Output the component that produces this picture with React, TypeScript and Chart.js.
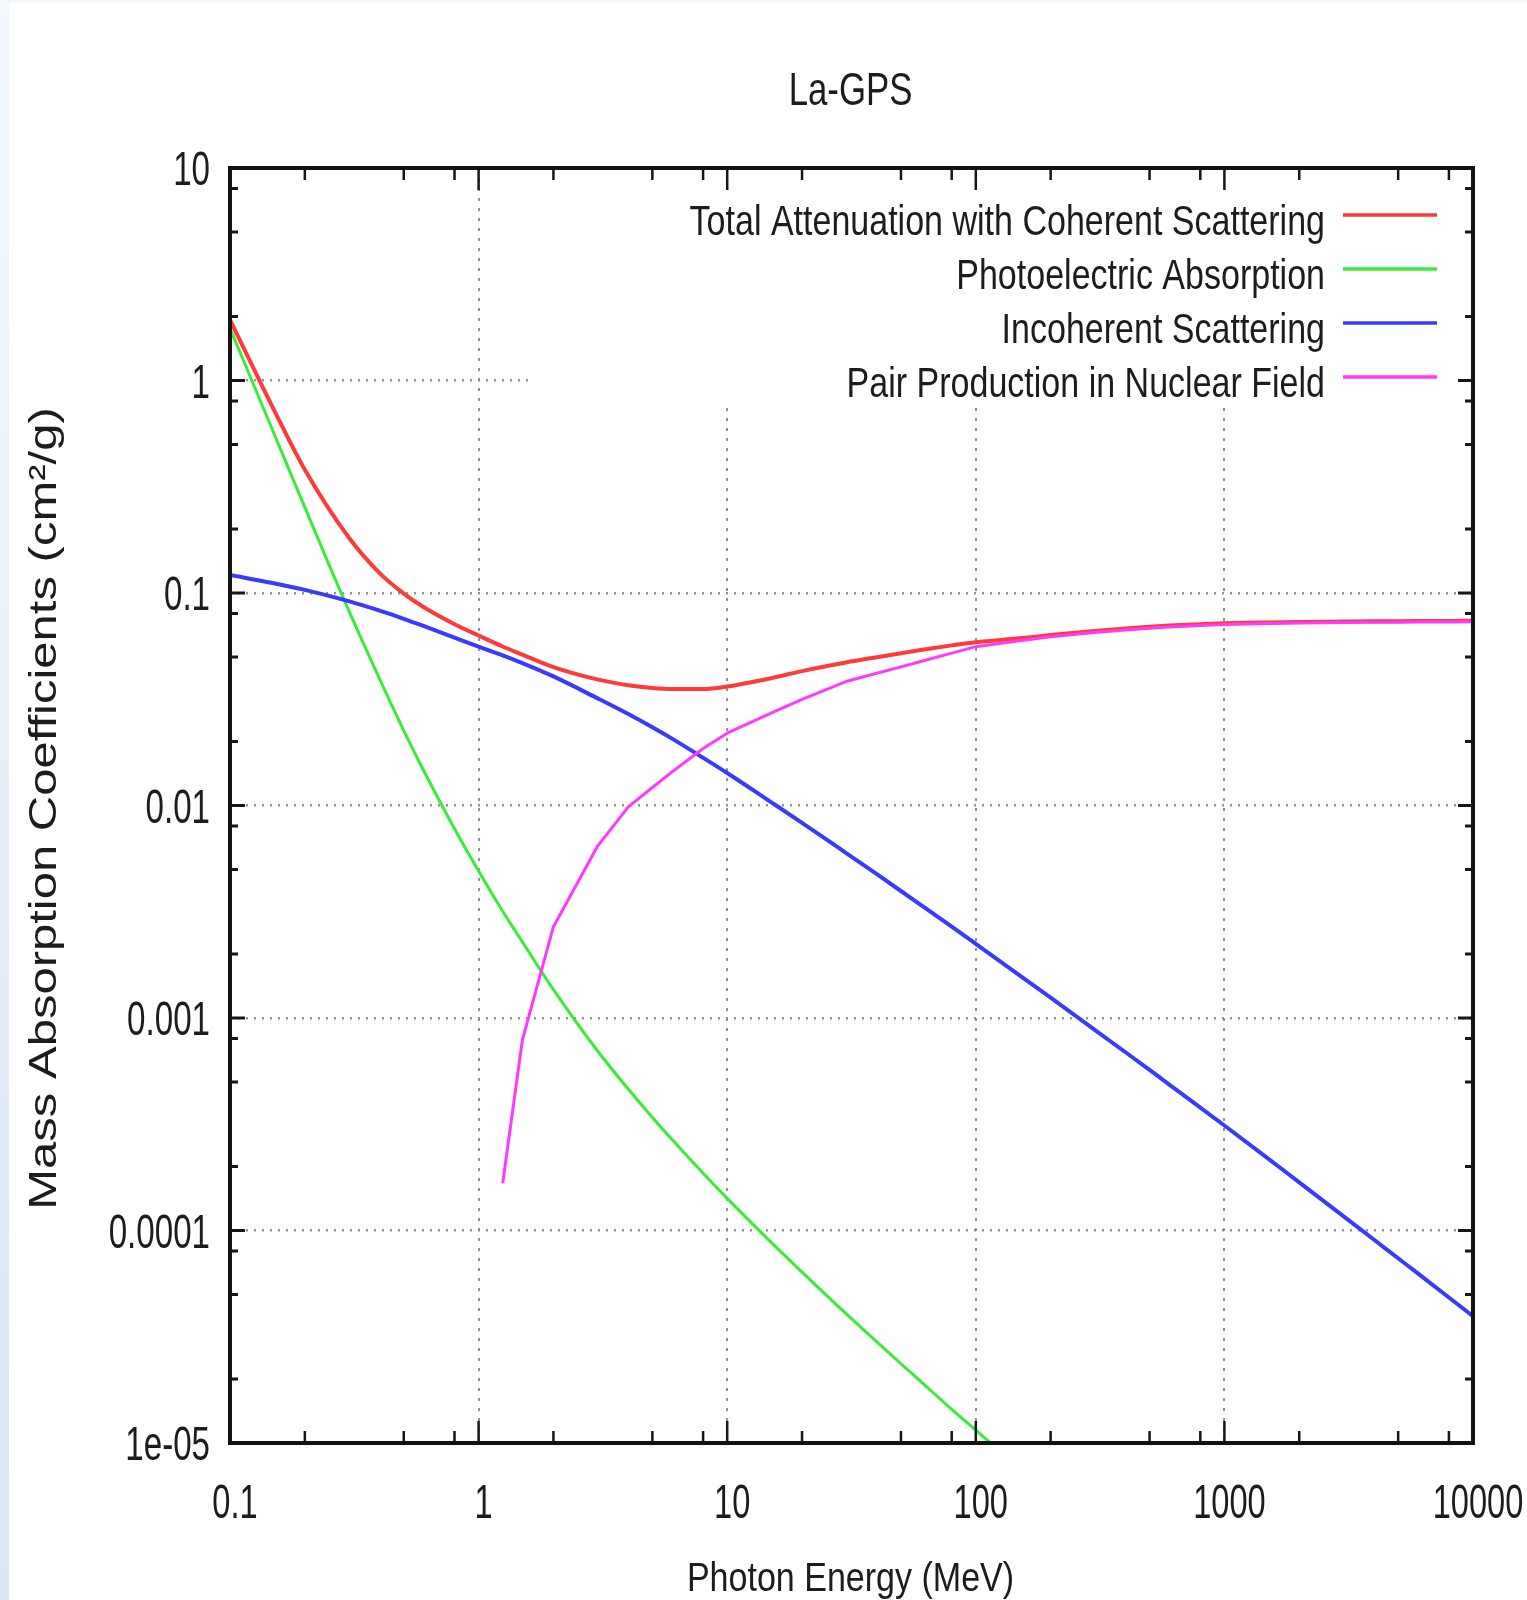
import React, { useEffect, useRef } from 'react';
import { Chart, registerables } from 'chart.js';

Chart.register(...registerables);

// ---------------- data ----------------
const TITLE = 'La-GPS';
const X_TITLE = 'Photon Energy (MeV)';
const Y_TITLE = 'Mass Absorption Coefficients (cm\u00B2/g)';

const ENERGY = [
  0.1, 0.15, 0.2, 0.3, 0.4, 0.5, 0.6, 0.8, 1, 1.25, 1.5, 2, 3, 4, 5, 6, 8, 10, 15, 20, 30, 40, 50, 60, 80,
  100, 150, 200, 300, 400, 500, 600, 800, 1000, 1500, 2000, 3000, 4000, 5000, 6000, 8000, 10000,
];

const TOTAL = [
  1.93, 0.73, 0.38, 0.183, 0.124, 0.0993, 0.0859, 0.0713, 0.0631, 0.056, 0.0513, 0.0448, 0.0392, 0.0368, 0.0357,
  0.0353, 0.0353, 0.0363, 0.0397, 0.0429, 0.0471, 0.0499, 0.0521, 0.0539, 0.0567, 0.0587, 0.0612, 0.0634,
  0.0662, 0.068, 0.0694, 0.0703, 0.0713, 0.072, 0.0727, 0.0731, 0.0734, 0.0736, 0.0737, 0.0738, 0.0739, 0.074,
];

const PHOTOELECTRIC = [
  1.76, 0.566, 0.253, 0.083, 0.0393, 0.0225, 0.01466, 0.00778, 0.00492, 0.00318, 0.00228, 0.00136, 0.000703,
  0.000463, 0.00034, 0.000268, 0.000186, 0.0001416, 0.0000881, 0.0000637, 0.0000407, 0.0000299, 0.0000236,
  0.0000195, 0.0000144, 0.0000115, 0.00000757, null, null, null, null, null, null, null, null, null, null, null,
  null, null, null, null,
];

const INCOHERENT = [
  0.1216, 0.1112, 0.1035, 0.0916, 0.0826, 0.0756, 0.07, 0.0617, 0.0559, 0.0509, 0.0468, 0.0405, 0.032, 0.02694,
  0.02335, 0.02064, 0.01677, 0.01422, 0.01038, 0.00829, 0.00599, 0.00475, 0.00396, 0.00341, 0.00269, 0.002233,
  0.001589, 0.001246, 0.000882, 0.00069, 0.00057, 0.000486, 0.000379, 0.000312, 0.000218, 0.0001685, 0.0001172,
  0.0000905, 0.000074, 0.0000628, 0.0000484, 0.0000395,
];

const PAIR_NUCLEAR = [
  null, null, null, null, null, null, null, null, null, 0.000167, 0.000788, 0.00269, 0.0064, 0.00986, 0.01215,
  0.0144, 0.01854, 0.0219, 0.0272, 0.0316, 0.0383, 0.0419, 0.0449, 0.0476, 0.0521, 0.0559, 0.0596, 0.0622,
  0.0652, 0.067, 0.0683, 0.0692, 0.0703, 0.071, 0.0718, 0.0722, 0.0726, 0.0728, 0.0729, 0.073, 0.0731, 0.0732,
];

const SERIES_LABELS = [
  'Total Attenuation with Coherent Scattering',
  'Photoelectric Absorption',
  'Incoherent Scattering',
  'Pair Production in Nuclear Field',
];

const X_MAJOR = [0.1, 1, 10, 100, 1000, 10000];
const X_TICK_LABELS = ['0.1', '1', '10', '100', '1000', '10000'];
const Y_MAJOR = [1e-5, 1e-4, 1e-3, 1e-2, 0.1, 1, 10];
const Y_TICK_LABELS = ['1e-05', '0.0001', '0.001', '0.01', '0.1', '1', '10'];
const MINOR_STEPS = [2, 5, 8];

// ---------------- style ----------------
const W = 1527;
const H = 1600;
const FONT = '"Liberation Sans", Arial, "DejaVu Sans", sans-serif';
const TEXT_COLOR = '#1c1c1c';
const GRID_COLOR = 'rgba(135,135,135,0.9)';
const COLORS = ['#ff3a3a', '#3aec3a', '#3a3aff', '#ff3aff'];
const WIDTHS = [4, 3, 4, 3];
const SMOOTH = [true, true, true, false];

const withMinors = (majors: number[]) => {
  const out: number[] = [];
  majors.forEach((m, i) => {
    out.push(m);
    if (i < majors.length - 1) MINOR_STEPS.forEach((s) => out.push(m * s));
  });
  return out;
};
const X_TICKS = withMinors(X_MAJOR);
const Y_TICKS = withMinors(Y_MAJOR);

const isMajor = (v: number) => {
  if (!(v > 0)) return false;
  const l = Math.log10(v);
  return Math.abs(l - Math.round(l)) < 1e-6;
};

function scaledText(
  ctx: CanvasRenderingContext2D,
  text: string,
  x: number,
  y: number,
  size: number,
  sx: number,
  align: CanvasTextAlign,
) {
  ctx.save();
  ctx.font = `${size}px ${FONT}`;
  ctx.fillStyle = TEXT_COLOR;
  ctx.textAlign = align;
  ctx.textBaseline = 'alphabetic';
  ctx.translate(x, y);
  ctx.scale(sx, 1);
  ctx.fillText(text, 0, 0);
  ctx.restore();
}

const LEGEND_BOX_LEFT = 528;
const LEGEND_BOX_BOTTOM = 403;
const LEGEND_FIRST_Y = 215;
const LEGEND_STEP = 54;
const LEGEND_TEXT_RIGHT = 1325;
const LEGEND_SAMPLE_X0 = 1343;
const LEGEND_SAMPLE_X1 = 1437;

const gnuplotPlugin = {
  id: 'gnuplotLook',
  beforeDraw(chart: any) {
    const ctx: CanvasRenderingContext2D = chart.ctx;
    ctx.save();
    const g = ctx.createLinearGradient(0, 0, 0, H);
    g.addColorStop(0, '#f3f7fc');
    g.addColorStop(1, '#d9e6f5');
    ctx.fillStyle = g;
    ctx.fillRect(0, 0, W, H);
    ctx.fillStyle = '#ffffff';
    ctx.fillRect(9, 3, W - 9, H - 3);
    ctx.restore();
  },
  beforeDatasetsDraw(chart: any) {
    const ctx: CanvasRenderingContext2D = chart.ctx;
    const a = chart.chartArea;
    ctx.save();
    ctx.fillStyle = '#ffffff';
    ctx.fillRect(LEGEND_BOX_LEFT, a.top + 2, a.right - 2 - LEGEND_BOX_LEFT, LEGEND_BOX_BOTTOM - a.top - 2);
    ctx.restore();
  },
  afterDraw(chart: any) {
    const ctx: CanvasRenderingContext2D = chart.ctx;
    const a = chart.chartArea;
    const xs = chart.scales.x;
    const ys = chart.scales.y;
    ctx.save();
    // tick marks
    ctx.strokeStyle = '#161616';
    ctx.lineCap = 'butt';
    ctx.lineWidth = 2.5;
    xs.ticks.forEach((t: any) => {
      const px = xs.getPixelForValue(t.value);
      const len = isMajor(t.value) ? 22 : 12;
      ctx.beginPath();
      ctx.moveTo(px, a.bottom);
      ctx.lineTo(px, a.bottom - len);
      ctx.moveTo(px, a.top);
      ctx.lineTo(px, a.top + len);
      ctx.stroke();
    });
    ctx.lineWidth = 3;
    ys.ticks.forEach((t: any) => {
      const py = ys.getPixelForValue(t.value);
      const len = isMajor(t.value) ? 15 : 8;
      ctx.beginPath();
      ctx.moveTo(a.left, py);
      ctx.lineTo(a.left + len, py);
      ctx.moveTo(a.right, py);
      ctx.lineTo(a.right - len, py);
      ctx.stroke();
    });
    // border
    ctx.lineWidth = 4;
    ctx.strokeStyle = '#121212';
    ctx.strokeRect(a.left, a.top, a.right - a.left, a.bottom - a.top);
    ctx.restore();

    // tick labels
    X_MAJOR.forEach((v, i) => {
      const px = xs.getPixelForValue(v);
      scaledText(ctx, X_TICK_LABELS[i], px + 5, a.bottom + 75, 49, 0.665, 'center');
    });
    Y_MAJOR.forEach((v, i) => {
      const py = ys.getPixelForValue(v);
      scaledText(ctx, Y_TICK_LABELS[i], a.left - 20, py + 17, 48, 0.69, 'right');
    });

    // legend
    chart.data.datasets.forEach((ds: any, i: number) => {
      const y = LEGEND_FIRST_Y + LEGEND_STEP * i;
      scaledText(ctx, ds.label, LEGEND_TEXT_RIGHT, y + 20, 42, 0.81, 'right');
      ctx.save();
      ctx.strokeStyle = ds.borderColor;
      ctx.lineWidth = 3.5;
      ctx.beginPath();
      ctx.moveTo(LEGEND_SAMPLE_X0, y);
      ctx.lineTo(LEGEND_SAMPLE_X1, y);
      ctx.stroke();
      ctx.restore();
    });

    // titles
    const cx = (a.left + a.right) / 2 - 1;
    scaledText(ctx, TITLE, cx, 105, 46, 0.756, 'center');
    scaledText(ctx, X_TITLE, cx, 1591, 41, 0.83, 'center');
    ctx.save();
    ctx.font = `49px ${FONT}`;
    ctx.fillStyle = TEXT_COLOR;
    ctx.textAlign = 'center';
    ctx.textBaseline = 'alphabetic';
    ctx.translate(56, (a.top + a.bottom) / 2 + 3);
    ctx.rotate(-Math.PI / 2);
    ctx.scale(1, 0.78);
    ctx.fillText(Y_TITLE, 0, 0);
    ctx.restore();
  },
};

const SERIES = [TOTAL, PHOTOELECTRIC, INCOHERENT, PAIR_NUCLEAR];

export default function App() {
  const ref = useRef<HTMLCanvasElement | null>(null);

  useEffect(() => {
    const canvas = ref.current;
    if (!canvas) return;
    const datasets = SERIES.map((vals, i) => ({
      label: SERIES_LABELS[i],
      data: ENERGY.map((e, j) => ({ x: e, y: vals[j] })),
      borderColor: COLORS[i],
      backgroundColor: COLORS[i],
      borderWidth: WIDTHS[i],
      pointRadius: 0,
      pointHoverRadius: 0,
      tension: 0,
      cubicInterpolationMode: SMOOTH[i] ? ('monotone' as const) : ('default' as const),
      fill: false,
      spanGaps: false,
      borderJoinStyle: 'round' as const,
      order: 4 - i,
    }));
    const chart = new Chart(canvas, {
      type: 'line',
      data: { datasets },
      options: {
        responsive: false,
        maintainAspectRatio: false,
        devicePixelRatio: 1,
        animation: false,
        events: [],
        layout: { padding: { left: 230, top: 168, right: W - 1473, bottom: H - 1443 } },
        plugins: {
          legend: { display: false },
          title: { display: false },
          tooltip: { enabled: false },
        },
        scales: {
          x: {
            type: 'logarithmic',
            min: 0.1,
            max: 10000,
            afterBuildTicks: (axis: any) => {
              axis.ticks = X_TICKS.map((v) => ({ value: v }));
            },
            ticks: { display: false },
            grid: {
              drawTicks: false,
              lineWidth: 2,
              color: (c: any) => (c.tick && isMajor(c.tick.value) ? GRID_COLOR : 'rgba(0,0,0,0)'),
            },
            border: { display: false, dash: [3, 7] },
          },
          y: {
            type: 'logarithmic',
            min: 1e-5,
            max: 10,
            afterBuildTicks: (axis: any) => {
              axis.ticks = Y_TICKS.map((v) => ({ value: v }));
            },
            ticks: { display: false },
            grid: {
              drawTicks: false,
              lineWidth: 2.5,
              color: (c: any) => (c.tick && isMajor(c.tick.value) ? GRID_COLOR : 'rgba(0,0,0,0)'),
            },
            border: { display: false, dash: [2, 6] },
          },
        },
      },
      plugins: [gnuplotPlugin],
    } as any);
    return () => chart.destroy();
  }, []);

  return (
    <div style={{ position: 'absolute', left: 0, top: 0, width: W, height: H }}>
      <canvas ref={ref} width={W} height={H} style={{ display: 'block', width: W, height: H }} />
    </div>
  );
}
